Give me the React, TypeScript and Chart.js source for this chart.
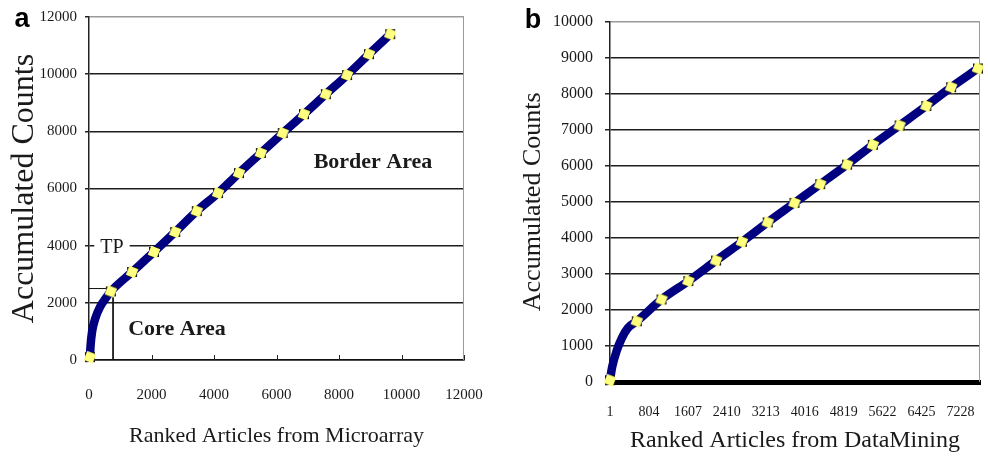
import React, { useEffect, useRef } from 'react';
import { Chart, registerables } from 'chart.js';

Chart.register(...registerables);

// ---------- Panel a (Microarray) ----------
const A_MARK_X = [30, 700, 1380, 2080, 2760, 3450, 4130, 4800, 5500, 6200, 6880, 7580, 8260, 8960, 9640];
const A_MARK_Y = [100, 2400, 3080, 3780, 4480, 5210, 5840, 6540, 7240, 7940, 8600, 9300, 9970, 10700, 11400];
const A_BEND_X = [50, 100, 200, 350, 560];
const A_BEND_Y = [500, 1000, 1450, 1850, 2200];
const A_TP_X = 770;
const A_TP_Y = 2500;
const A_X_TICKS = [0, 2000, 4000, 6000, 8000, 10000, 12000];
const A_Y_TICKS = [0, 2000, 4000, 6000, 8000, 10000, 12000];

// ---------- Panel b (DataMining) ----------
const B_MARK_X = [1, 553, 1064, 1617, 2189, 2721, 3253, 3805, 4336, 4889, 5420, 5972, 6524, 7035, 7588];
const B_MARK_Y = [50, 1685, 2290, 2800, 3370, 3890, 4430, 4970, 5490, 6030, 6580, 7120, 7660, 8180, 8700];
const B_BEND_X = [45, 140, 245, 370];
const B_BEND_Y = [410, 870, 1220, 1500];
const B_X_MAX = 7630;
const B_X_TICKS = [1, 804, 1607, 2410, 3213, 4016, 4819, 5622, 6425, 7228];
const B_Y_TICKS = [0, 1000, 2000, 3000, 4000, 5000, 6000, 7000, 8000, 9000, 10000];

const SERIF = '"Liberation Serif", "Times New Roman", serif';
const SANS = '"Liberation Sans", Arial, sans-serif';
const NAVY = '#000080';
const TEXT = '#1a1a1a';

function curvePoints(mx: number[], my: number[], bx: number[], by: number[]) {
  const pts = mx.map((x, i) => ({ x, y: my[i] })).concat(bx.map((x, i) => ({ x, y: by[i] })));
  pts.sort((a, b) => a.x - b.x);
  return pts;
}

function makeMarker(): HTMLCanvasElement {
  const c = document.createElement('canvas');
  c.width = 14;
  c.height = 14;
  const g = c.getContext('2d')!;
  g.fillStyle = '#111';
  g.fillRect(2, 2, 10, 10);
  g.save();
  g.translate(7, 7);
  g.rotate(0.38);
  g.fillStyle = '#ffff80';
  g.fillRect(-4.8, -4.8, 9.6, 9.6);
  g.restore();
  return c;
}

const notesPlugin = {
  id: 'notes',
  beforeDatasetsDraw(chart: any, _args: any, opts: any) {
    const { ctx, chartArea, scales } = chart;
    ctx.save();
    ctx.strokeStyle = opts.frameColor || '#999';
    ctx.lineWidth = 1;
    ctx.beginPath();
    ctx.moveTo(chartArea.right - 0.5, chartArea.top);
    ctx.lineTo(chartArea.right - 0.5, chartArea.bottom);
    ctx.stroke();
    if (opts.innerTicks) {
      ctx.strokeStyle = '#222';
      ctx.lineWidth = 1;
      for (const t of scales.x.ticks) {
        if (t.value === scales.x.min) continue;
        const px = Math.round(scales.x.getPixelForValue(t.value)) + 0.5;
        ctx.beginPath();
        ctx.moveTo(px, chartArea.bottom);
        ctx.lineTo(px, chartArea.bottom - opts.innerTicks);
        ctx.stroke();
      }
    }
    for (const n of opts.notes || []) {
      const px = scales.x.getPixelForValue(n.x);
      const py = scales.y.getPixelForValue(n.y);
      ctx.font = `${n.bold ? 'bold ' : ''}${n.size}px ${SERIF}`;
      ctx.textAlign = 'center';
      ctx.textBaseline = 'middle';
      if (n.bg) {
        const w = ctx.measureText(n.text).width;
        ctx.fillStyle = '#fff';
        ctx.fillRect(px - w / 2 - 6, py - n.size * 0.6, w + 12, n.size * 1.2);
      }
      ctx.fillStyle = TEXT;
      ctx.fillText(n.text, px, py);
    }
    ctx.restore();
  },
  afterDraw(chart: any, _args: any, opts: any) {
    if (!opts.letter) return;
    const { ctx } = chart;
    ctx.save();
    ctx.font = `bold 27px ${SANS}`;
    ctx.fillStyle = '#000';
    ctx.textAlign = 'center';
    ctx.textBaseline = 'middle';
    ctx.fillText(opts.letter.text, opts.letter.px, opts.letter.py);
    ctx.restore();
  },
};

function fixedTicks(list: number[]) {
  return (s: any) => {
    s.ticks = list.map((v) => ({ value: v }));
  };
}

function buildA(marker: HTMLCanvasElement): any {
  return {
    type: 'line',
    data: {
      datasets: [
        {
          data: A_MARK_X.map((x, i) => ({ x, y: A_MARK_Y[i] })),
          showLine: false,
          pointStyle: marker,
          pointRadius: 7,
        },
        {
          data: curvePoints(A_MARK_X, A_MARK_Y, A_BEND_X, A_BEND_Y),
          borderColor: NAVY,
          borderWidth: 8.5,
          pointRadius: 0,
          cubicInterpolationMode: 'monotone',
          borderCapStyle: 'round',
        },
        {
          data: [
            { x: 0, y: A_TP_Y },
            { x: A_TP_X, y: A_TP_Y },
            { x: A_TP_X, y: 0 },
          ],
          borderColor: '#111',
          borderWidth: 1,
          pointRadius: 0,
          tension: 0,
        },
      ],
    },
    options: {
      responsive: false,
      animation: false,
      events: [],
      clip: false,
      layout: { padding: { top: 17, right: 21, bottom: 0, left: 0 } },
      plugins: {
        legend: { display: false },
        tooltip: { enabled: false },
        notes: {
          frameColor: '#9a9a9a',
          innerTicks: 5,
          notes: [
            { text: 'TP', x: 736, y: 3920, size: 20, bold: false, bg: true },
            { text: 'Core Area', x: 2816, y: 1085, size: 22, bold: true },
            { text: 'Border Area', x: 9088, y: 6930, size: 22, bold: true },
          ],
          letter: { text: 'a', px: 22, py: 20 },
        },
      },
      scales: {
        x: {
          type: 'linear',
          min: 0,
          max: 12000,
          afterBuildTicks: fixedTicks(A_X_TICKS),
          afterFit: (s: any) => {
            s.height = 96;
          },
          grid: { display: false, drawTicks: true, tickLength: 26 },
          border: { display: true, color: '#111', width: 1.5 },
          ticks: {
            font: { family: SERIF, size: 15 },
            color: TEXT,
            padding: 0,
            maxRotation: 0,
            autoSkip: false,
            callback: (v: any) => String(v),
          },
          title: {
            display: true,
            text: 'Ranked Articles from Microarray',
            font: { family: SERIF, size: 22 },
            color: TEXT,
            padding: { top: 0, bottom: 7 },
          },
        },
        y: {
          type: 'linear',
          min: 0,
          max: 12000,
          afterBuildTicks: fixedTicks(A_Y_TICKS),
          afterFit: (s: any) => {
            s.width = 89;
          },
          grid: {
            color: (c: any) => (c.tick && c.tick.value === 12000 ? '#9a9a9a' : '#1e1e1e'),
            lineWidth: 1.5,
            drawTicks: true,
            tickLength: 4,
            tickColor: '#222',
          },
          border: { display: true, color: '#222', width: 1.5 },
          ticks: {
            font: { family: SERIF, size: 15 },
            color: TEXT,
            padding: 8,
            callback: (v: any) => String(v),
          },
          title: {
            display: true,
            text: 'Accumulated Counts',
            font: { family: SERIF, size: 32 },
            color: TEXT,
            padding: { top: 5, bottom: 0 },
          },
        },
      },
    },
    plugins: [notesPlugin],
  };
}

function buildB(marker: HTMLCanvasElement): any {
  return {
    type: 'line',
    data: {
      datasets: [
        {
          data: B_MARK_X.map((x, i) => ({ x, y: B_MARK_Y[i] })),
          showLine: false,
          pointStyle: marker,
          pointRadius: 7,
        },
        {
          data: curvePoints(B_MARK_X, B_MARK_Y, B_BEND_X, B_BEND_Y),
          borderColor: NAVY,
          borderWidth: 8.5,
          pointRadius: 0,
          cubicInterpolationMode: 'monotone',
          borderCapStyle: 'round',
        },
      ],
    },
    options: {
      responsive: false,
      animation: false,
      events: [],
      clip: false,
      layout: { padding: { top: 14, right: 5, bottom: 0, left: 0 } },
      plugins: {
        legend: { display: false },
        tooltip: { enabled: false },
        notes: {
          frameColor: '#9a9a9a',
          innerTicks: 0,
          notes: [],
          letter: { text: 'b', px: 48, py: 21 },
        },
      },
      scales: {
        x: {
          type: 'linear',
          min: 1,
          max: B_X_MAX,
          afterBuildTicks: fixedTicks(B_X_TICKS),
          afterFit: (s: any) => {
            s.height = 74;
          },
          grid: { display: false, drawTicks: true, tickLength: 22 },
          border: { display: true, color: '#000', width: 5 },
          ticks: {
            font: { family: SERIF, size: 14 },
            color: TEXT,
            padding: 0,
            maxRotation: 0,
            autoSkip: false,
            callback: (v: any) => String(v),
          },
          title: {
            display: true,
            text: 'Ranked Articles from DataMining',
            font: { family: SERIF, size: 24 },
            color: TEXT,
            padding: { top: 0, bottom: 1 },
          },
        },
        y: {
          type: 'linear',
          min: 0,
          max: 10000,
          afterBuildTicks: fixedTicks(B_Y_TICKS),
          afterFit: (s: any) => {
            s.width = 125;
          },
          grid: {
            color: (c: any) => (c.tick && c.tick.value === 10000 ? '#9a9a9a' : '#1e1e1e'),
            lineWidth: 1.5,
            drawTicks: true,
            tickLength: 5,
            tickColor: '#222',
          },
          border: { display: true, color: '#222', width: 1.5 },
          ticks: {
            font: { family: SERIF, size: 16 },
            color: TEXT,
            padding: 12,
            callback: (v: any) => String(v),
          },
          title: {
            display: true,
            text: 'Accumulated Counts',
            font: { family: SERIF, size: 26 },
            color: TEXT,
            padding: { top: 33, bottom: 0 },
          },
        },
      },
    },
    plugins: [notesPlugin],
  };
}

export default function App() {
  const refA = useRef<HTMLCanvasElement>(null);
  const refB = useRef<HTMLCanvasElement>(null);

  useEffect(() => {
    const marker = makeMarker();
    const a = new Chart(refA.current!, buildA(marker));
    const b = new Chart(refB.current!, buildB(marker));
    return () => {
      a.destroy();
      b.destroy();
    };
  }, []);

  return (
    <div
      style={{
        position: 'absolute',
        left: 0,
        top: 0,
        width: 988,
        height: 456,
        background: '#fff',
        overflow: 'hidden',
      }}
    >
      <canvas
        ref={refA}
        width={485}
        height={456}
        style={{ position: 'absolute', left: 0, top: 0, width: 485, height: 456 }}
      />
      <canvas
        ref={refB}
        width={503}
        height={456}
        style={{ position: 'absolute', left: 485, top: 0, width: 503, height: 456 }}
      />
    </div>
  );
}
